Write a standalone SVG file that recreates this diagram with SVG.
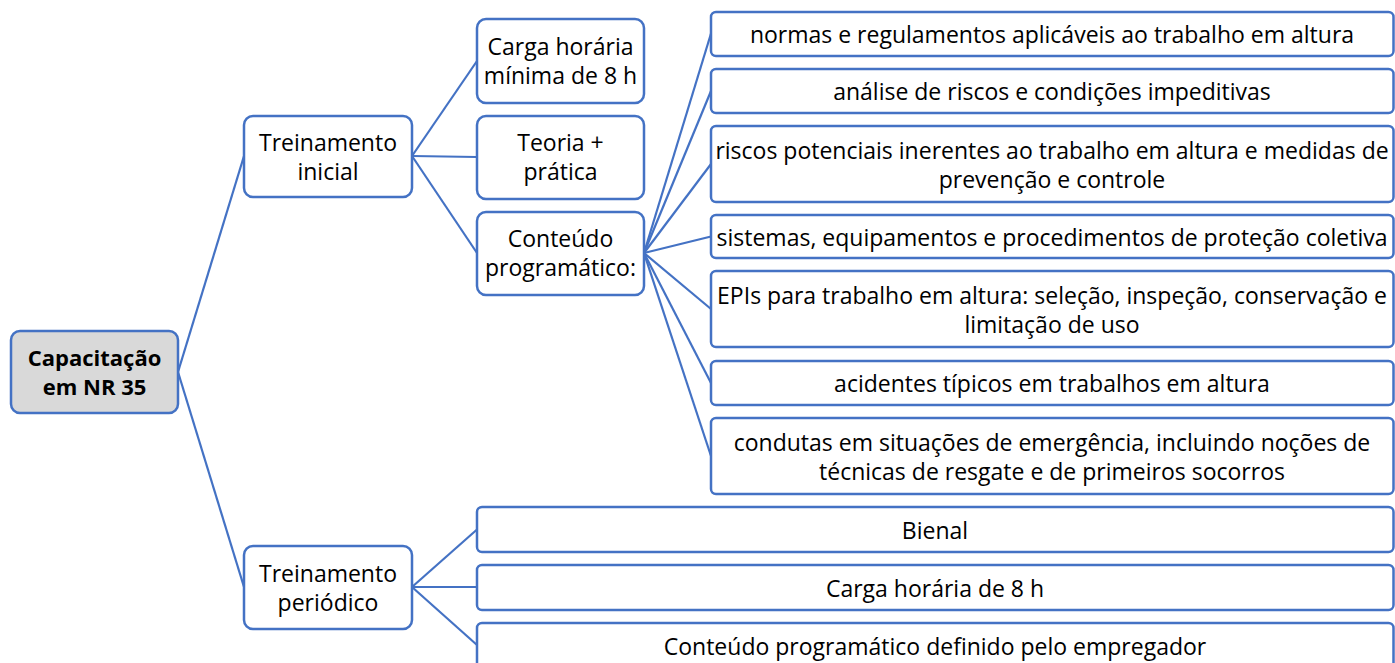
<svg xmlns="http://www.w3.org/2000/svg" width="1395" height="663" viewBox="0 0 1395 663">
<style>
.b{fill:#fff;stroke:#4472c4;stroke-width:2.5}
.r{fill:#d9d9d9;stroke:#4472c4;stroke-width:2.5}
text{font-family:"Open Sans","Liberation Sans",Arial,sans-serif;font-size:23px;fill:#000;text-anchor:middle}
.bold{font-weight:bold;font-size:22px}
.c line{stroke:#4472c4;stroke-width:2.2}
</style>
<rect width="1395" height="663" fill="#fff"/>
<g class="c" id="connectors">
<line x1="178" y1="372" x2="244" y2="156"/>
<line x1="178" y1="372" x2="244" y2="587"/>
<line x1="412" y1="156" x2="477" y2="61"/>
<line x1="412" y1="156" x2="477" y2="157"/>
<line x1="412" y1="156" x2="477" y2="253"/>
<line x1="644" y1="253" x2="711" y2="33.5"/>
<line x1="644" y1="253" x2="711" y2="91"/>
<line x1="644" y1="253" x2="711" y2="164"/>
<line x1="644" y1="253" x2="711" y2="236.5"/>
<line x1="644" y1="253" x2="711" y2="309"/>
<line x1="644" y1="253" x2="711" y2="383"/>
<line x1="644" y1="253" x2="711" y2="456"/>
<line x1="412" y1="587" x2="477" y2="529.5"/>
<line x1="412" y1="587" x2="477" y2="587"/>
<line x1="412" y1="587" x2="477" y2="645"/>
</g>
<g id="root"><rect class="r" x="11" y="331" width="167" height="82" rx="9"/><text class="bold" x="94.5" y="366">Capacitação</text><text class="bold" x="94.5" y="395">em NR 35</text></g>
<g id="inicial"><rect class="b" x="244" y="116" width="168" height="81" rx="9"/><text x="328" y="151">Treinamento</text><text x="328" y="180">inicial</text></g>
<g id="periodico"><rect class="b" x="244" y="546" width="168" height="83" rx="9"/><text x="328" y="582">Treinamento</text><text x="328" y="611">periódico</text></g>
<g id="carga"><rect class="b" x="477" y="19" width="167" height="84" rx="9"/><text x="560.5" y="55">Carga horária</text><text x="560.5" y="84">mínima de 8 h</text></g>
<g id="teoria"><rect class="b" x="477" y="116" width="167" height="83" rx="9"/><text x="560.5" y="151">Teoria +</text><text x="560.5" y="180">prática</text></g>
<g id="conteudo"><rect class="b" x="477" y="212" width="167" height="83" rx="9"/><text x="560.5" y="247">Conteúdo</text><text x="560.5" y="276">programático:</text></g>
<g id="c1"><rect class="b" x="711" y="12" width="682.5" height="44" rx="5"/><text x="1052" y="43">normas e regulamentos aplicáveis ao trabalho em altura</text></g>
<g id="c2"><rect class="b" x="711" y="69" width="682.5" height="44" rx="5"/><text x="1052" y="100">análise de riscos e condições impeditivas</text></g>
<g id="c3"><rect class="b" x="711" y="126" width="682.5" height="76" rx="5"/><text x="1052" y="159">riscos potenciais inerentes ao trabalho em altura e medidas de</text><text x="1052" y="188">prevenção e controle</text></g>
<g id="c4"><rect class="b" x="711" y="215" width="682.5" height="43" rx="5"/><text x="1052" y="246">sistemas, equipamentos e procedimentos de proteção coletiva</text></g>
<g id="c5"><rect class="b" x="711" y="271" width="682.5" height="76" rx="5"/><text x="1052" y="304">EPIs para trabalho em altura: seleção, inspeção, conservação e</text><text x="1052" y="333">limitação de uso</text></g>
<g id="c6"><rect class="b" x="711" y="361" width="682.5" height="44" rx="5"/><text x="1052" y="392">acidentes típicos em trabalhos em altura</text></g>
<g id="c7"><rect class="b" x="711" y="418" width="682.5" height="76" rx="5"/><text x="1052" y="451">condutas em situações de emergência, incluindo noções de</text><text x="1052" y="480">técnicas de resgate e de primeiros socorros</text></g>
<g id="p1"><rect class="b" x="477" y="507" width="916.5" height="45" rx="5"/><text x="935" y="539">Bienal</text></g>
<g id="p2"><rect class="b" x="477" y="565" width="916.5" height="45" rx="5"/><text x="935" y="597">Carga horária de 8 h</text></g>
<g id="p3"><rect class="b" x="477" y="623" width="916.5" height="45" rx="5"/><text x="935" y="655">Conteúdo programático definido pelo empregador</text></g>
</svg>
